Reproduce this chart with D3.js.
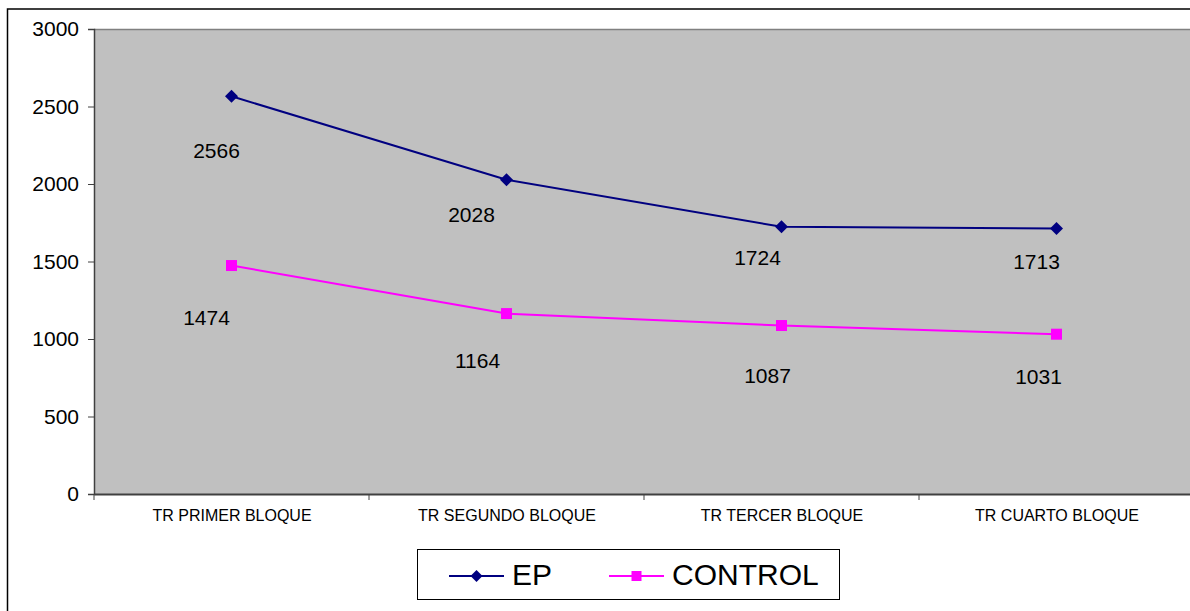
<!DOCTYPE html>
<html>
<head>
<meta charset="utf-8">
<script src="https://cdn.jsdelivr.net/npm/d3@7"></script>
<style>
  html, body { margin: 0; padding: 0; background: #fff; }
  svg { display: block; font-family: "Liberation Sans", Arial, Helvetica, sans-serif; }
</style>
</head>
<body>
<svg id="chart" width="1190" height="611"></svg>
<script>
// ---- data ----
const categories = ["TR PRIMER BLOQUE", "TR SEGUNDO BLOQUE", "TR TERCER BLOQUE", "TR CUARTO BLOQUE"];
const epValues = [2566, 2028, 1724, 1713];
const controlValues = [1474, 1164, 1087, 1031];
const yTicks = [0, 500, 1000, 1500, 2000, 2500, 3000];
const seriesNames = ["EP", "CONTROL"];
// manual label offsets (layout, relative to each point)
const epLabelOffsets = [[-15, 54], [-35, 35], [-24, 31], [-20, 33]];
const controlLabelOffsets = [[-25, 52], [-29, 47], [-14, 50], [-18, 42]];

// ---- layout ----
const plot = { left: 94, top: 29, right: 1194, bottom: 494 };
const svg = d3.select("#chart");

// outer chart border
svg.append("rect")
  .attr("x", 7.5).attr("y", 9)
  .attr("width", 1200).attr("height", 700)
  .attr("fill", "#fff").attr("stroke", "#000").attr("stroke-width", 1.5);

const x = d3.scalePoint().domain(categories).range([plot.left, plot.right]).padding(0.5);
const xBand = d3.scaleBand().domain(categories).range([plot.left, plot.right]);
const y = d3.scaleLinear().domain([0, 3000]).range([plot.bottom, plot.top]);

// plot area
svg.append("rect")
  .attr("x", plot.left).attr("y", plot.top)
  .attr("width", plot.right - plot.left).attr("height", plot.bottom - plot.top)
  .attr("fill", "#c0c0c0");
svg.append("line")
  .attr("x1", plot.left).attr("x2", plot.right)
  .attr("y1", plot.top + 0.5).attr("y2", plot.top + 0.5)
  .attr("stroke", "#808080").attr("stroke-width", 1.5);

// y axis
const yAxis = d3.axisLeft(y).tickValues(yTicks).tickFormat(d3.format("d")).tickSize(6).tickPadding(9);
const gy = svg.append("g").attr("transform", `translate(${plot.left},0)`).call(yAxis);
gy.select(".domain").attr("stroke", "#404040").attr("stroke-width", 1.5);
gy.selectAll(".tick line").attr("stroke", "#404040");
gy.selectAll(".tick text")
  .attr("font-size", 21).attr("fill", "#000")
  .attr("font-family", "'Liberation Sans', Arial, sans-serif");

// x axis
const xAxis = d3.axisBottom(x).tickSize(0).tickPadding(16);
const gx = svg.append("g").attr("transform", `translate(0,${plot.bottom})`).call(xAxis);
gx.select(".domain").attr("stroke", "#404040").attr("stroke-width", 2);
gx.selectAll(".tick text")
  .attr("font-size", 16).attr("fill", "#000")
  .attr("font-family", "'Liberation Sans', Arial, sans-serif");
// category boundary ticks
const bounds = categories.map(c => xBand(c));
svg.append("g").selectAll("line").data(bounds).join("line")
  .attr("x1", d => d).attr("x2", d => d)
  .attr("y1", plot.bottom).attr("y2", plot.bottom + 6)
  .attr("stroke", "#404040").attr("stroke-width", 1);

// series
const series = [
  { name: seriesNames[0], values: epValues, color: "#000080", marker: "diamond", offsets: epLabelOffsets },
  { name: seriesNames[1], values: controlValues, color: "#ff00ff", marker: "square", offsets: controlLabelOffsets }
];

const line = d3.line().x((d, i) => x(categories[i])).y(d => y(d));

function drawMarker(g, type, cx, cy, color, size) {
  if (type === "diamond") {
    const s = size / 2 + 1;
    g.append("path")
      .attr("d", `M${cx},${cy - s}L${cx + s},${cy}L${cx},${cy + s}L${cx - s},${cy}Z`)
      .attr("fill", color);
  } else {
    g.append("rect")
      .attr("x", cx - size / 2).attr("y", cy - size / 2)
      .attr("width", size).attr("height", size)
      .attr("fill", color);
  }
}

series.forEach(s => {
  const g = svg.append("g");
  g.append("path").datum(s.values)
    .attr("d", line).attr("fill", "none")
    .attr("stroke", s.color).attr("stroke-width", 2);
  s.values.forEach((v, i) => {
    drawMarker(g, s.marker, x(categories[i]), y(v), s.color, 11);
  });
  g.selectAll("text.lbl").data(s.values).join("text")
    .attr("class", "lbl")
    .attr("x", (d, i) => x(categories[i]) + s.offsets[i][0])
    .attr("y", (d, i) => y(d) + s.offsets[i][1])
    .attr("dy", "0.36em")
    .attr("text-anchor", "middle")
    .attr("font-size", 21).attr("fill", "#000")
    .text(d => d);
});

// legend
const legend = svg.append("g");
legend.append("rect")
  .attr("x", 417.5).attr("y", 549.5).attr("width", 422).attr("height", 50)
  .attr("fill", "#fff").attr("stroke", "#000").attr("stroke-width", 1);
const legendItems = [
  { x0: 449, tx: 512 },
  { x0: 609, tx: 672 }
];
series.forEach((s, i) => {
  const it = legendItems[i];
  legend.append("line")
    .attr("x1", it.x0).attr("x2", it.x0 + 55)
    .attr("y1", 576).attr("y2", 576)
    .attr("stroke", s.color).attr("stroke-width", 2);
  drawMarker(legend, s.marker, it.x0 + 27.5, 576, s.color, 10);
  legend.append("text")
    .attr("x", it.tx).attr("y", 585)
    .attr("font-size", 30).attr("fill", "#000")
    .text(s.name);
});
</script>
</body>
</html>
